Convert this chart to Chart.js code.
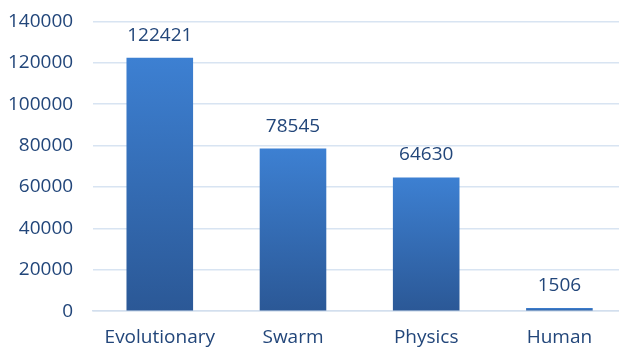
<!DOCTYPE html>
<html>
<head>
<meta charset="utf-8">
<script src="https://cdn.jsdelivr.net/npm/chart.js@4/dist/chart.umd.min.js"></script>
<style>
  html, body { margin: 0; padding: 0; background: #fff; overflow: hidden; }
  body { width: 619px; height: 348px; position: relative; }
  #wrap { position: absolute; left: -20px; top: -10px; width: 646px; height: 358px; }
</style>
</head>
<body>
<div id="wrap"><canvas id="c"></canvas></div>
<script>
// ─── data ─────────────────────────────────────
const categories = ['Evolutionary', 'Swarm', 'Physics', 'Human'];
const counts = [122421, 78545, 64630, 1506];
const yTicks = [0, 20000, 40000, 60000, 80000, 100000, 120000, 140000];

const TXT = '#22467a';
const FONT = { family: 'Open Sans', size: 19 };

// gradient per bar (lighter top, darker bottom)
function barGrad(ctx) {
  const chart = ctx.chart;
  const y = chart.scales.y;
  if (!y || ctx.parsed == null) return '#3570b8';
  const top = y.getPixelForValue(ctx.parsed.y);
  const bot = y.getPixelForValue(0);
  if (!isFinite(top) || !isFinite(bot) || top === bot) return '#3570b8';
  const g = chart.ctx.createLinearGradient(0, top, 0, bot);
  g.addColorStop(0, '#3d80d2');
  g.addColorStop(1, '#2b5896');
  return g;
}

// value labels above bars
const valueLabels = {
  id: 'valueLabels',
  afterDatasetsDraw(chart) {
    const c = chart.ctx;
    const meta = chart.getDatasetMeta(0);
    c.save();
    c.font = `${FONT.size}px ${FONT.family}`;
    c.fillStyle = TXT;
    c.textAlign = 'center';
    c.textBaseline = 'alphabetic';
    meta.data.forEach((bar, i) => {
      c.fillText(String(counts[i]), bar.x, bar.y - 17);
    });
    c.restore();
  },
};

new Chart(document.getElementById('c'), {
  type: 'bar',
  data: {
    labels: categories,
    datasets: [{
      data: counts,
      backgroundColor: barGrad,
      borderWidth: 0,
      barPercentage: 0.5,
      categoryPercentage: 1,
    }],
  },
  options: {
    responsive: true,
    maintainAspectRatio: false,
    animation: false,
    layout: { padding: { top: 1, left: 8, right: 0, bottom: -8 } },
    plugins: { legend: { display: false }, tooltip: { enabled: false } },
    scales: {
      x: {
        grid: { display: false },
        border: { display: true, color: '#d3dfee', width: 1.5 },
        ticks: { color: TXT, font: FONT, padding: 7 },
      },
      y: {
        min: 0, max: 140000,
        afterBuildTicks: axis => { axis.ticks = yTicks.map(v => ({ value: v })); },
        grid: { color: '#d8e4f2', lineWidth: 1.5, drawTicks: false },
        border: { display: false },
        ticks: { color: TXT, font: FONT, padding: 20, callback: v => String(v) },
      },
    },
  },
  plugins: [valueLabels],
});
</script>
</body>
</html>
